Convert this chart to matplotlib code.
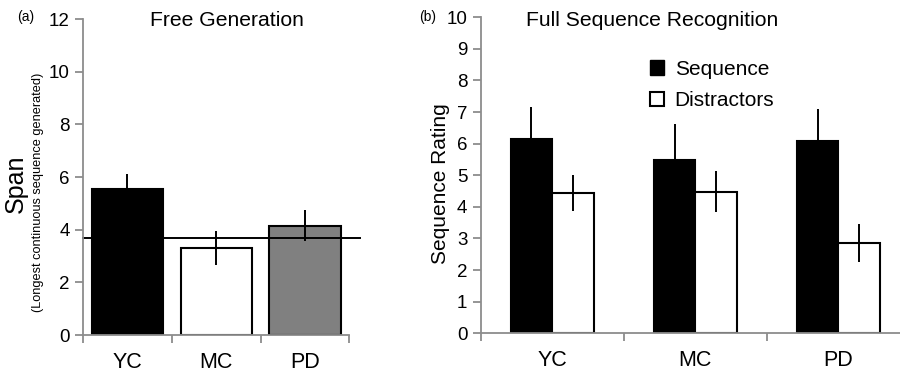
import matplotlib.pyplot as plt
from matplotlib.patches import Patch

plt.rcParams['font.family'] = ['Liberation Sans', 'DejaVu Sans']

# data
groups = ['YC', 'MC', 'PD']
span = [5.55, 3.3, 4.16]
span_err = [0.55, 0.65, 0.6]
span_colors = ['black', 'white', '#808080']
span_ref = 3.67

seq = [6.15, 5.48, 6.08]
seq_err = [1.0, 1.14, 1.03]
dist = [4.43, 4.48, 2.85]
dist_err = [0.57, 0.65, 0.6]

axis_gray = '#8c8c8c'

fig = plt.figure(figsize=(9, 3.74), dpi=100)


def style_axes(ax, ymax, ystep):
    ax.spines['top'].set_visible(False)
    ax.spines['right'].set_visible(False)
    for s in ['left', 'bottom']:
        ax.spines[s].set_color(axis_gray)
        ax.spines[s].set_linewidth(1.3)
    ax.set_xlim(-0.5, 2.5)
    ax.set_ylim(0, ymax)
    ax.set_yticks(range(0, ymax + 1, ystep))
    ax.set_xticks([-0.5, 0.5, 1.5, 2.5])
    ax.set_xticklabels([])
    ax.set_xticks([0, 1, 2], minor=True)
    ax.set_xticklabels(groups, minor=True, fontsize=15.5)
    ax.tick_params(axis='x', which='minor', length=0, pad=12)
    ax.tick_params(axis='x', which='major', length=6, color=axis_gray, width=1.3)
    ax.tick_params(axis='y', length=6, color=axis_gray, width=1.3, labelsize=13.5)


# 左图 Free Generation
ax1 = fig.add_axes([0.0922, 0.104, 0.296, 0.845])
x = range(len(groups))
ax1.bar(x, span, width=0.8, color=span_colors, edgecolor='black', linewidth=1.5)
ax1.errorbar(x, span, yerr=span_err, fmt='none', ecolor='black', elinewidth=1.4, capsize=0)
ax1.plot([-0.5, 2.62], [span_ref, span_ref], color='black', linewidth=1.4, clip_on=False)
style_axes(ax1, 12, 2)
fig.text(16 / 900, 0.51, 'Span', rotation=90, ha='center', va='center', fontsize=18)
fig.text(38 / 900, 0.486, '(Longest continuous sequence generated)',
         rotation=90, ha='center', va='center', fontsize=9.2)
ax1.text(0.541, 0.995, 'Free Generation', transform=ax1.transAxes, ha='center', va='center', fontsize=15.2)
fig.text(0.019, 0.955, '(a)', fontsize=10, va='center')

# 右图 Full Sequence Recognition
ax2 = fig.add_axes([0.534, 0.109, 0.477, 0.845])
w = 0.29
xs = [i - w / 2 for i in x]
xd = [i + w / 2 for i in x]
ax2.bar(xs, seq, width=w, color='black', edgecolor='black', linewidth=1.5)
ax2.bar(xd, dist, width=w, color='white', edgecolor='black', linewidth=1.5)
ax2.errorbar(xs, seq, yerr=seq_err, fmt='none', ecolor='black', elinewidth=1.4, capsize=0)
ax2.errorbar(xd, dist, yerr=dist_err, fmt='none', ecolor='black', elinewidth=1.4, capsize=0)
style_axes(ax2, 10, 1)
fig.text(440 / 900, 0.508, 'Sequence Rating', rotation=90, ha='center', va='center', fontsize=15)
ax2.text(0.399, 0.988, 'Full Sequence Recognition', transform=ax2.transAxes,
         ha='center', va='center', fontsize=15.2)
fig.text(0.466, 0.955, '(b)', fontsize=10, va='center')

handles = [Patch(facecolor='black', edgecolor='black'),
           Patch(facecolor='white', edgecolor='black', linewidth=1.5)]
ax2.legend(handles, ['Sequence', 'Distractors'], loc='upper left',
           bbox_to_anchor=(0.35, 0.925), frameon=False, fontsize=15,
           handlelength=0.7, handleheight=0.7, handletextpad=0.5, labelspacing=0.6)

plt.savefig('out.png', dpi=100)
